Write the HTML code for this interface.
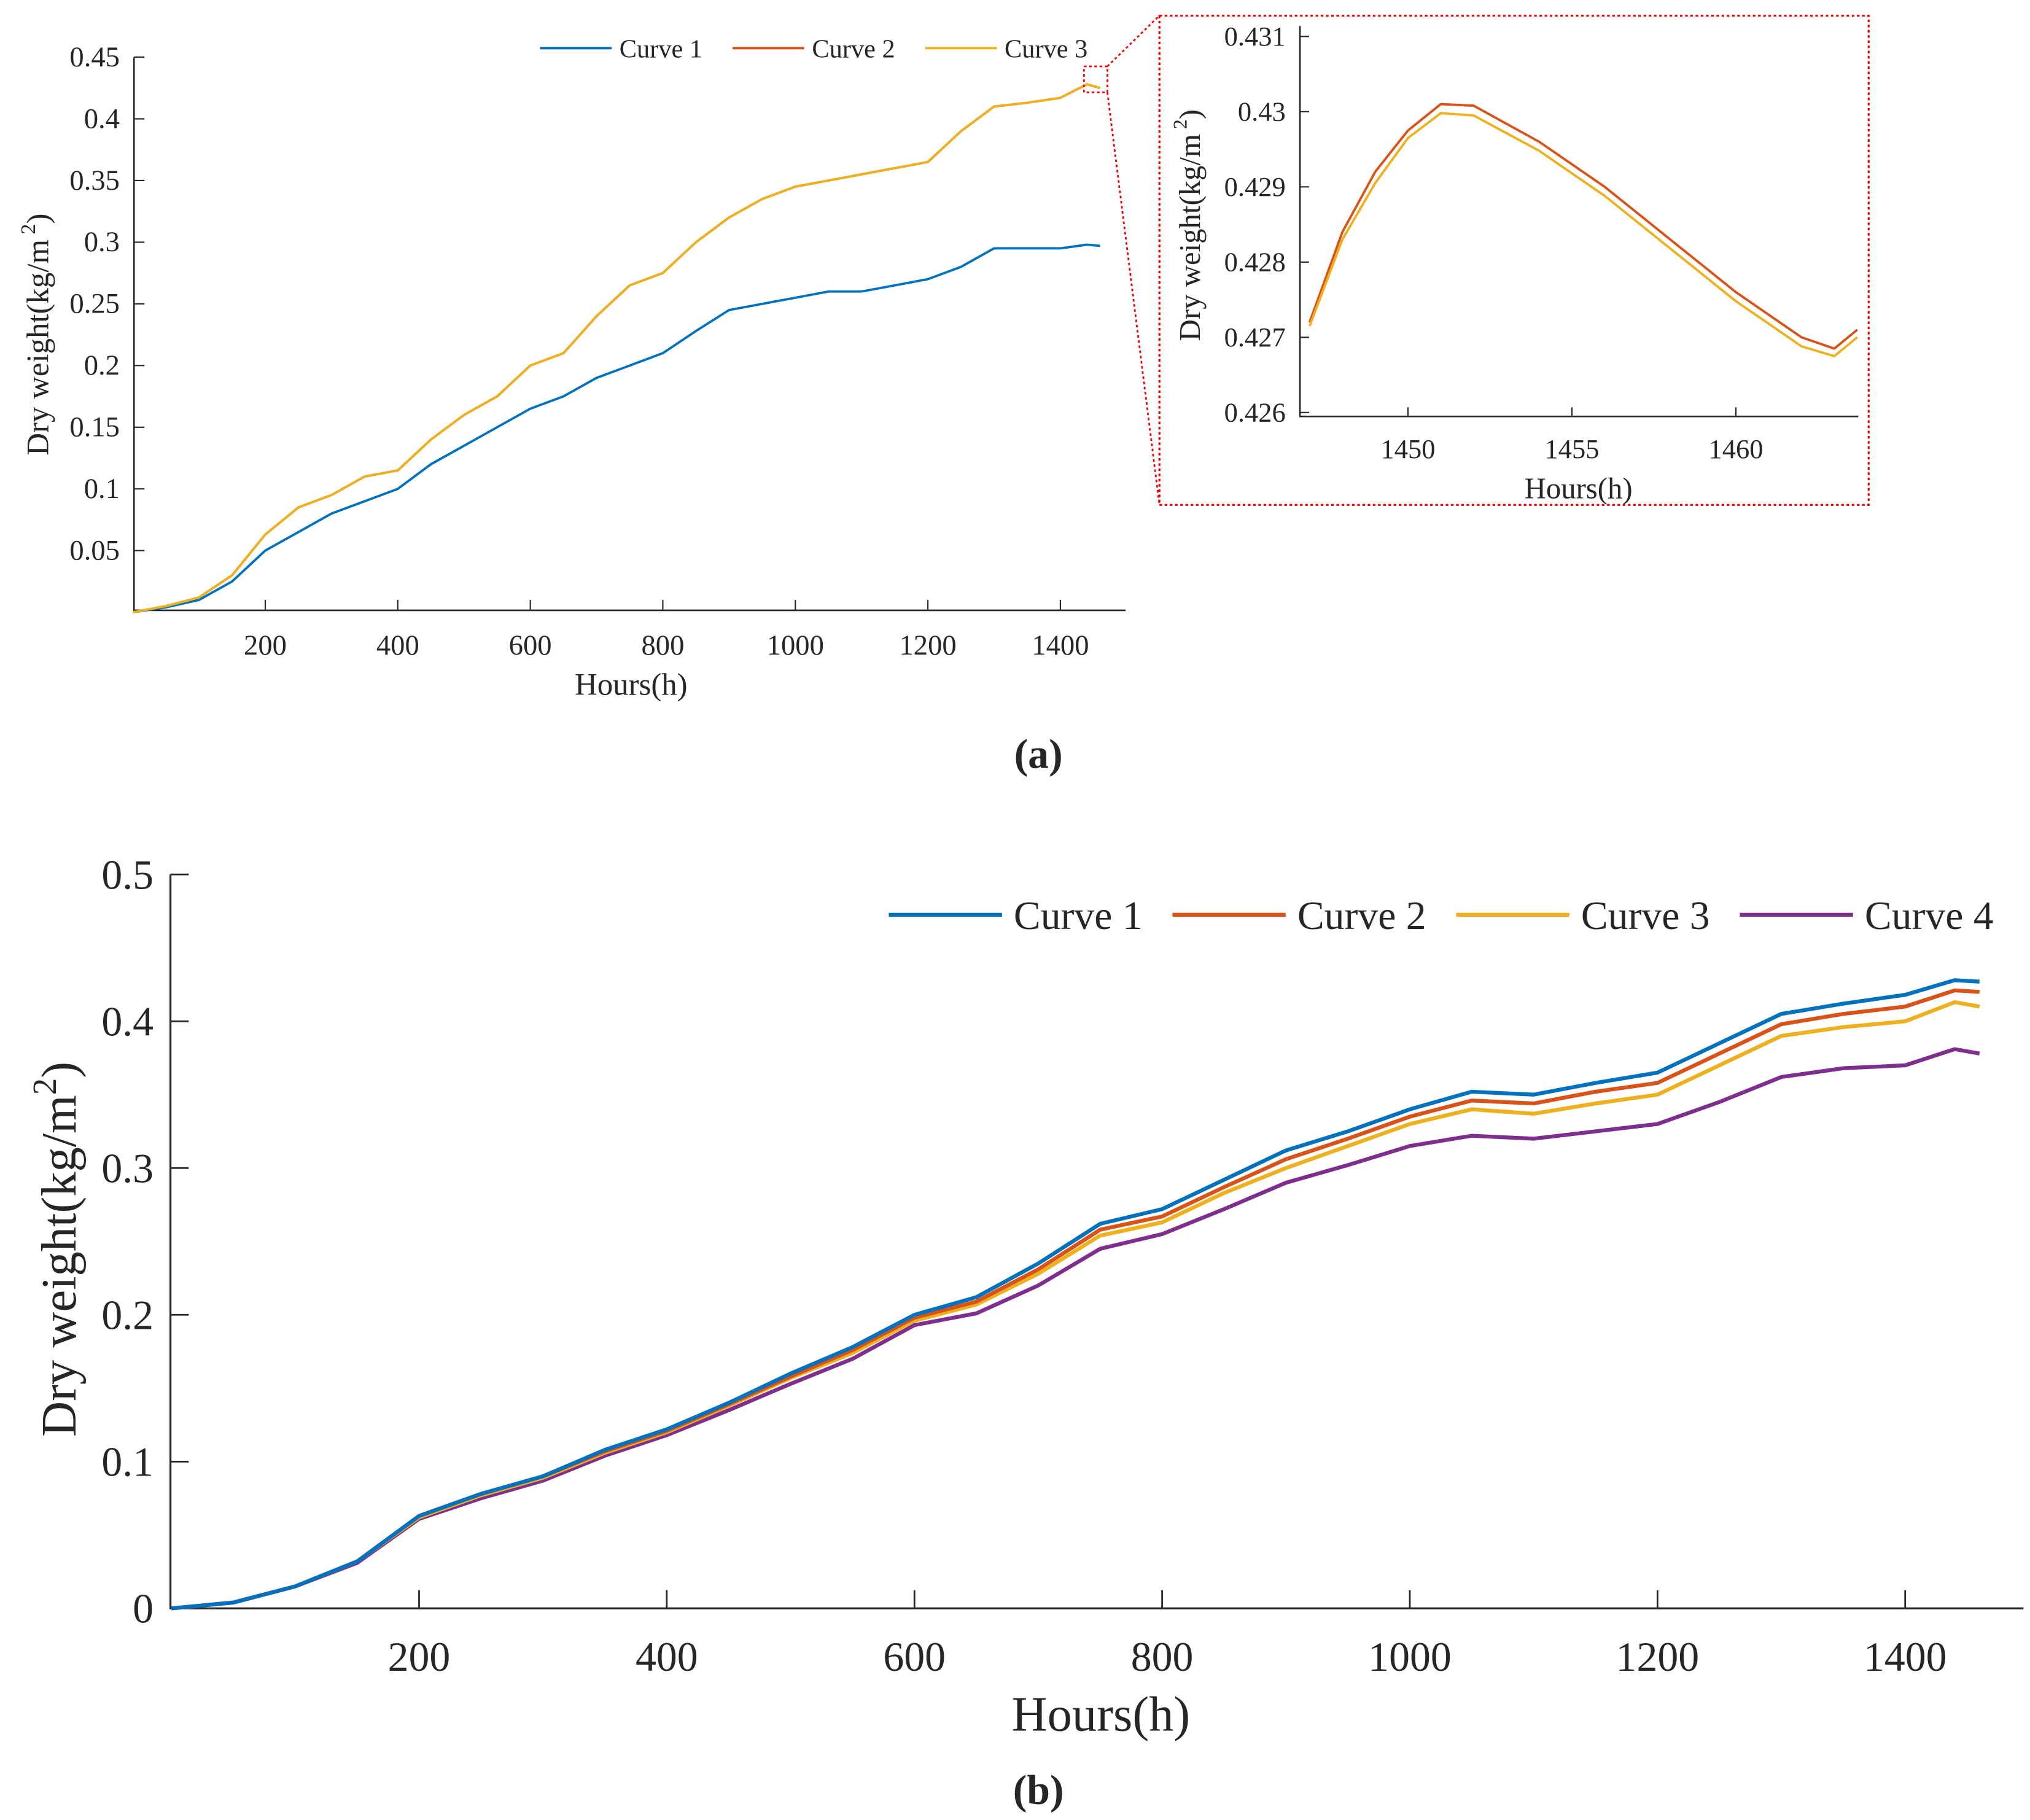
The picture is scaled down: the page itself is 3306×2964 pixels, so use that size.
<!DOCTYPE html>
<html><head><meta charset="utf-8"><style>
html,body{margin:0;padding:0;background:#fff}
svg{display:block}
svg text{font-family:"Liberation Serif","DejaVu Serif",serif !important;fill:#262626}
</style></head><body>
<svg id="fig" width="3306" height="2964" viewBox="0 0 1560 1398.6" xmlns="http://www.w3.org/2000/svg" font-family="Liberation Serif, serif">
<g id="pa"></g>
<g id="pin"></g>
<g id="pb"></g>
<text x="798" y="590" font-size="32" font-weight="bold" text-anchor="middle" font-family="Liberation Serif, serif">(a)</text>
<text x="798" y="1386" font-size="32" font-weight="bold" text-anchor="middle" font-family="Liberation Serif, serif">(b)</text>
</svg>
<script>
// ---- panel (a) data ----
const aHours=[0,50,100,150,200,250,300,350,400,450,500,550,600,650,700,750,800,850,900,950,1000,1050,1100,1150,1200,1250,1300,1350,1400,1440,1460];
const aCurve1=[0,0.004,0.01,0.025,0.05,0.065,0.08,0.09,0.1,0.12,0.135,0.15,0.165,0.175,0.19,0.2,0.21,0.228,0.245,0.25,0.255,0.26,0.26,0.265,0.27,0.28,0.295,0.295,0.295,0.298,0.297];
const aCurve2=[0,0.005,0.012,0.03,0.063,0.085,0.095,0.11,0.115,0.14,0.16,0.175,0.2,0.21,0.24,0.265,0.275,0.3,0.32,0.335,0.345,0.35,0.355,0.36,0.365,0.39,0.41,0.413,0.417,0.428,0.425];
const aCurve3=[0,0.005,0.012,0.03,0.063,0.085,0.095,0.11,0.115,0.14,0.16,0.175,0.2,0.21,0.24,0.265,0.275,0.3,0.32,0.335,0.345,0.35,0.355,0.36,0.365,0.39,0.41,0.413,0.417,0.428,0.425];
const aXTicks=[200,400,600,800,1000,1200,1400];
const aYTicks=[0.05,0.1,0.15,0.2,0.25,0.3,0.35,0.4,0.45];
// ---- inset data ----
const inHours=[1447,1448,1449,1450,1451,1452,1454,1456,1458,1460,1462,1463,1463.7];
const inCurve2=[0.4272,0.4284,0.4292,0.42975,0.4301,0.43008,0.4296,0.429,0.4283,0.4276,0.427,0.42685,0.4271];
const inCurve3=[0.42715,0.4283,0.42905,0.42965,0.42998,0.42995,0.42948,0.42888,0.42818,0.42748,0.42688,0.42675,0.427];
const inXTicks=[1450,1455,1460];
const inYTicks=[0.426,0.427,0.428,0.429,0.43,0.431];
// ---- panel (b) data ----
const bHours=[0,50,100,150,200,250,300,350,400,450,500,550,600,650,700,750,800,850,900,950,1000,1050,1100,1150,1200,1250,1300,1350,1400,1440,1460];
const bCurve1=[0,0.004,0.015,0.032,0.063,0.078,0.09,0.108,0.122,0.14,0.16,0.178,0.2,0.212,0.235,0.262,0.272,0.292,0.312,0.325,0.34,0.352,0.35,0.358,0.365,0.385,0.405,0.412,0.418,0.428,0.427];
const bCurve2=[0,0.004,0.015,0.032,0.063,0.078,0.09,0.107,0.121,0.139,0.158,0.176,0.198,0.209,0.231,0.258,0.267,0.287,0.306,0.32,0.335,0.346,0.344,0.352,0.358,0.378,0.398,0.405,0.41,0.421,0.42];
const bCurve3=[0,0.004,0.015,0.032,0.062,0.077,0.089,0.106,0.12,0.138,0.157,0.174,0.196,0.207,0.228,0.254,0.263,0.283,0.3,0.315,0.33,0.34,0.337,0.344,0.35,0.37,0.39,0.396,0.4,0.413,0.41];
const bCurve4=[0,0.004,0.015,0.031,0.061,0.075,0.087,0.104,0.118,0.135,0.153,0.17,0.193,0.201,0.22,0.245,0.255,0.272,0.29,0.302,0.315,0.322,0.32,0.325,0.33,0.345,0.362,0.368,0.37,0.381,0.378];
const bXTicks=[200,400,600,800,1000,1200,1400];
const bYTicks=[0,0.1,0.2,0.3,0.4,0.5];
const bYLabels=["0","0.1","0.2","0.3","0.4","0.5"];

const NS="http://www.w3.org/2000/svg";
const FF="Liberation Serif, serif";
function mk(parent,tag,attrs,txt){const e=document.createElementNS(NS,tag);for(const k in attrs)e.setAttribute(k,attrs[k]);if(tag==='text')e.setAttribute('font-family',FF);if(txt!==undefined)e.textContent=txt;parent.appendChild(e);return e;}
function path(xs,ys,sx,sy){return xs.map((h,i)=>(i?'L':'M')+sx(h).toFixed(2)+','+sy(ys[i]).toFixed(2)).join('');}

// ===== Panel a =====
const pa=document.getElementById('pa');
const axA=h=>102+h*0.5092, ayA=v=>470.5-v*948;
let e;
e=mk(pa,'path',{d:'M103,44V469H865',stroke:'#262626','stroke-width':1.2,fill:'none'});


aXTicks.forEach(t=>{
  mk(pa,'line',{x1:axA(t),x2:axA(t),y1:469,y2:461,stroke:'#262626','stroke-width':1});
  e=mk(pa,'text',{x:axA(t),y:503,'font-size':22,'text-anchor':'middle'},String(t));
  
  
});
aYTicks.forEach(t=>{
  mk(pa,'line',{x1:103,x2:111,y1:ayA(t),y2:ayA(t),stroke:'#262626','stroke-width':1});
  e=mk(pa,'text',{x:92,y:ayA(t)+7,'font-size':22,'text-anchor':'end'},String(t));
  
  
});
e=mk(pa,'text',{x:485,y:534,'font-size':24,'text-anchor':'middle'},'Hours(h)');


e=mk(pa,'text',{transform:'translate(37,257) rotate(-90)','font-size':24,'text-anchor':'middle'});
e.innerHTML='Dry weight(kg/m<tspan dy="-10" font-size="16"> 2</tspan><tspan dy="10">)</tspan>';


[[aCurve1,'#0072BD','curve-1-a'],[aCurve2,'#D95319','curve-2-a'],[aCurve3,'#EDB120','curve-3-a']].forEach(([d,c,n])=>{
  e=mk(pa,'path',{d:path(aHours,d,axA,ayA),stroke:c,'stroke-width':1.8,fill:'none'});
  
  
});
[['Curve 1','#0072BD',415],['Curve 2','#D95319',563],['Curve 3','#EDB120',711]].forEach(([t,c,x])=>{
  mk(pa,'line',{x1:x,x2:x+55,y1:37,y2:37,stroke:c,'stroke-width':1.8});
  e=mk(pa,'text',{x:x+61,y:44,'font-size':20},t);
  
  
});
e=mk(pa,'rect',{x:833,y:51,width:18,height:20,fill:'none',stroke:'#e00','stroke-width':1.3,'stroke-dasharray':'2,2'});


mk(pa,'line',{x1:851,y1:51,x2:891,y2:12,stroke:'#e00','stroke-width':1.3,'stroke-dasharray':'2,2'});
mk(pa,'line',{x1:851,y1:71,x2:891,y2:388,stroke:'#e00','stroke-width':1.3,'stroke-dasharray':'2,2'});

// ===== Inset =====
const pin=document.getElementById('pin');
const ix=h=>1082+(h-1450)*25.2, iy=v=>28+(0.431-v)*57800;
e=mk(pin,'rect',{x:891,y:12,width:545,height:376,fill:'none',stroke:'#e00','stroke-width':1.5,'stroke-dasharray':'2,2'});


mk(pin,'path',{d:'M999,20V320H1428',stroke:'#262626','stroke-width':1.2,fill:'none'});
inXTicks.forEach(t=>{
  mk(pin,'line',{x1:ix(t),x2:ix(t),y1:320,y2:313,stroke:'#262626','stroke-width':1});
  e=mk(pin,'text',{x:ix(t),y:352,'font-size':21,'text-anchor':'middle'},String(t));
  
  
});
inYTicks.forEach(t=>{
  mk(pin,'line',{x1:999,x2:1006,y1:iy(t),y2:iy(t),stroke:'#262626','stroke-width':1});
  e=mk(pin,'text',{x:988,y:iy(t)+7,'font-size':21,'text-anchor':'end'},String(t));
  
  
});
e=mk(pin,'text',{x:1213,y:383,'font-size':23,'text-anchor':'middle'},'Hours(h)');


e=mk(pin,'text',{transform:'translate(922,173) rotate(-90)','font-size':23,'text-anchor':'middle'});
e.innerHTML='Dry weight(kg/m<tspan dy="-10" font-size="15"> 2</tspan><tspan dy="10">)</tspan>';


[[inCurve2,'#D95319','curve-2-inset'],[inCurve3,'#EDB120','curve-3-inset']].forEach(([d,c,n])=>{
  e=mk(pin,'path',{d:path(inHours,d,ix,iy),stroke:c,'stroke-width':1.8,fill:'none'});
  
  
});

// ===== Panel b =====
const pb=document.getElementById('pb');
const bx=h=>131.7+h*0.9517, by=v=>1236-v*1128;
mk(pb,'path',{d:'M131,672V1236H1555',stroke:'#262626','stroke-width':1.5,fill:'none'});
bXTicks.forEach(t=>{
  mk(pb,'line',{x1:bx(t),x2:bx(t),y1:1236,y2:1222,stroke:'#262626','stroke-width':1.3});
  e=mk(pb,'text',{x:bx(t),y:1284,'font-size':32,'text-anchor':'middle'},String(t));
  
  
});
bYTicks.forEach((t,i)=>{
  mk(pb,'line',{x1:131,x2:145,y1:by(t),y2:by(t),stroke:'#262626','stroke-width':1.3});
  e=mk(pb,'text',{x:118,y:by(t)+11,'font-size':32,'text-anchor':'end'},bYLabels[i]);
  
  
});
e=mk(pb,'text',{x:846,y:1330,'font-size':38,'text-anchor':'middle'},'Hours(h)');


e=mk(pb,'text',{transform:'translate(58,960) rotate(-90)','font-size':38,'text-anchor':'middle'});
e.innerHTML='Dry weight(kg/m<tspan dy="-15" font-size="26">2</tspan><tspan dy="15">)</tspan>';


[[bCurve4,'#7E2F8E','curve-4-b'],[bCurve3,'#EDB120','curve-3-b'],[bCurve2,'#D95319','curve-2-b'],[bCurve1,'#0072BD','curve-1-b']].forEach(([d,c,n])=>{
  e=mk(pb,'path',{d:path(bHours,d,bx,by),stroke:c,'stroke-width':3,fill:'none'});
  
  
});
[['Curve 1','#0072BD',683],['Curve 2','#D95319',901],['Curve 3','#EDB120',1119],['Curve 4','#7E2F8E',1337]].forEach(([t,c,x])=>{
  mk(pb,'line',{x1:x,x2:x+87,y1:703,y2:703,stroke:c,'stroke-width':3});
  e=mk(pb,'text',{x:x+96,y:714,'font-size':31},t);
  
  
});
</script>
</body></html>
